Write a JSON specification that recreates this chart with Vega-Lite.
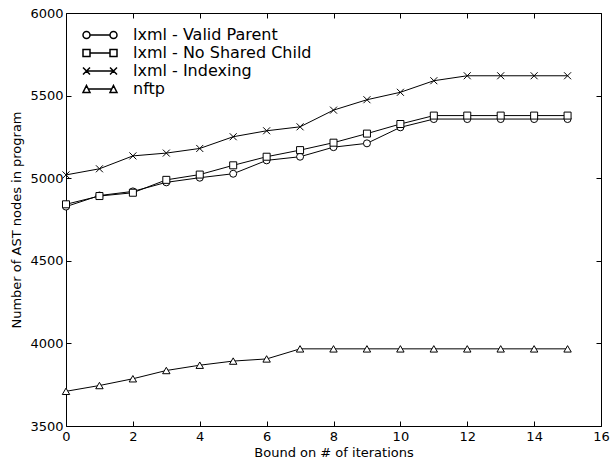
{
  "$schema": "https://vega.github.io/schema/vega-lite/v6.json",
  "width": 535,
  "height": 413,
  "autosize": {"type": "none"},
  "padding": {"left": 66, "top": 13, "right": 9, "bottom": 37},
  "background": "white",
  "config": {
    "font": "DejaVu Sans",
    "view": {"stroke": "black", "strokeWidth": 1},
    "axis": {
      "domain": false,
      "grid": false,
      "tickColor": "black",
      "tickSize": -5,
      "tickWidth": 1,
      "labelColor": "black",
      "labelFontSize": 13,
      "titleFontSize": 13,
      "titleFontWeight": "normal",
      "titleColor": "black",
      "labelFont": "DejaVu Sans",
      "titleFont": "DejaVu Sans"
    }
  },
  "data": {
    "values": [
      {"series": "lxml - Valid Parent", "x": 0, "y": 4828},
      {"series": "lxml - Valid Parent", "x": 1, "y": 4895},
      {"series": "lxml - Valid Parent", "x": 2, "y": 4920},
      {"series": "lxml - Valid Parent", "x": 3, "y": 4975},
      {"series": "lxml - Valid Parent", "x": 4, "y": 5003},
      {"series": "lxml - Valid Parent", "x": 5, "y": 5027},
      {"series": "lxml - Valid Parent", "x": 6, "y": 5108},
      {"series": "lxml - Valid Parent", "x": 7, "y": 5130},
      {"series": "lxml - Valid Parent", "x": 8, "y": 5188},
      {"series": "lxml - Valid Parent", "x": 9, "y": 5211},
      {"series": "lxml - Valid Parent", "x": 10, "y": 5308},
      {"series": "lxml - Valid Parent", "x": 11, "y": 5358},
      {"series": "lxml - Valid Parent", "x": 12, "y": 5358},
      {"series": "lxml - Valid Parent", "x": 13, "y": 5358},
      {"series": "lxml - Valid Parent", "x": 14, "y": 5358},
      {"series": "lxml - Valid Parent", "x": 15, "y": 5358},
      {"series": "lxml - No Shared Child", "x": 0, "y": 4842},
      {"series": "lxml - No Shared Child", "x": 1, "y": 4892},
      {"series": "lxml - No Shared Child", "x": 2, "y": 4912},
      {"series": "lxml - No Shared Child", "x": 3, "y": 4990},
      {"series": "lxml - No Shared Child", "x": 4, "y": 5022},
      {"series": "lxml - No Shared Child", "x": 5, "y": 5078},
      {"series": "lxml - No Shared Child", "x": 6, "y": 5130},
      {"series": "lxml - No Shared Child", "x": 7, "y": 5170},
      {"series": "lxml - No Shared Child", "x": 8, "y": 5215},
      {"series": "lxml - No Shared Child", "x": 9, "y": 5270},
      {"series": "lxml - No Shared Child", "x": 10, "y": 5328},
      {"series": "lxml - No Shared Child", "x": 11, "y": 5379},
      {"series": "lxml - No Shared Child", "x": 12, "y": 5379},
      {"series": "lxml - No Shared Child", "x": 13, "y": 5379},
      {"series": "lxml - No Shared Child", "x": 14, "y": 5379},
      {"series": "lxml - No Shared Child", "x": 15, "y": 5379},
      {"series": "lxml - Indexing", "x": 0, "y": 5020},
      {"series": "lxml - Indexing", "x": 1, "y": 5057},
      {"series": "lxml - Indexing", "x": 2, "y": 5135},
      {"series": "lxml - Indexing", "x": 3, "y": 5152},
      {"series": "lxml - Indexing", "x": 4, "y": 5180},
      {"series": "lxml - Indexing", "x": 5, "y": 5251},
      {"series": "lxml - Indexing", "x": 6, "y": 5287},
      {"series": "lxml - Indexing", "x": 7, "y": 5311},
      {"series": "lxml - Indexing", "x": 8, "y": 5412},
      {"series": "lxml - Indexing", "x": 9, "y": 5475},
      {"series": "lxml - Indexing", "x": 10, "y": 5520},
      {"series": "lxml - Indexing", "x": 11, "y": 5590},
      {"series": "lxml - Indexing", "x": 12, "y": 5620},
      {"series": "lxml - Indexing", "x": 13, "y": 5620},
      {"series": "lxml - Indexing", "x": 14, "y": 5620},
      {"series": "lxml - Indexing", "x": 15, "y": 5620},
      {"series": "nftp", "x": 0, "y": 3710},
      {"series": "nftp", "x": 1, "y": 3745},
      {"series": "nftp", "x": 2, "y": 3786},
      {"series": "nftp", "x": 3, "y": 3836},
      {"series": "nftp", "x": 4, "y": 3868},
      {"series": "nftp", "x": 5, "y": 3893},
      {"series": "nftp", "x": 6, "y": 3906},
      {"series": "nftp", "x": 7, "y": 3967},
      {"series": "nftp", "x": 8, "y": 3967},
      {"series": "nftp", "x": 9, "y": 3967},
      {"series": "nftp", "x": 10, "y": 3967},
      {"series": "nftp", "x": 11, "y": 3967},
      {"series": "nftp", "x": 12, "y": 3967},
      {"series": "nftp", "x": 13, "y": 3967},
      {"series": "nftp", "x": 14, "y": 3967},
      {"series": "nftp", "x": 15, "y": 3967}
    ]
  },
  "layer": [
    {
      "mark": {"type": "line", "color": "black", "strokeWidth": 1},
      "encoding": {
        "x": {
          "field": "x", "type": "quantitative",
          "scale": {"domain": [0, 16], "nice": false, "zero": false},
          "axis": {"values": [0, 2, 4, 6, 8, 10, 12, 14, 16], "title": "Bound on # of iterations", "labelPadding": 9, "labelFlush": false, "titlePadding": 3}
        },
        "y": {
          "field": "y", "type": "quantitative",
          "scale": {"domain": [3500, 6000], "nice": false, "zero": false},
          "axis": {"values": [3500, 4000, 4500, 5000, 5500, 6000], "format": "d", "title": "Number of AST nodes in program", "labelPadding": 8, "labelFlush": false, "titlePadding": 6}
        },
        "detail": {"field": "series"}
      }
    },
    {
      "transform": [{"filter": "datum.series == 'lxml - Valid Parent'"}],
      "mark": {"type": "point", "shape": "circle", "filled": true, "fill": "white", "stroke": "black", "strokeWidth": 1, "size": 49, "opacity": 1},
      "encoding": {
        "x": {"field": "x", "type": "quantitative", "axis": null},
        "y": {"field": "y", "type": "quantitative", "axis": null}
      }
    },
    {
      "transform": [{"filter": "datum.series == 'lxml - No Shared Child'"}],
      "mark": {"type": "point", "shape": "square", "filled": true, "fill": "white", "stroke": "black", "strokeWidth": 1, "size": 49, "opacity": 1},
      "encoding": {
        "x": {"field": "x", "type": "quantitative", "axis": null},
        "y": {"field": "y", "type": "quantitative", "axis": null}
      }
    },
    {
      "transform": [{"filter": "datum.series == 'lxml - Indexing'"}],
      "mark": {"type": "point", "shape": "M-1,-1L1,1M-1,1L1,-1", "filled": false, "stroke": "black", "strokeWidth": 1, "size": 49, "opacity": 1},
      "encoding": {
        "x": {"field": "x", "type": "quantitative", "axis": null},
        "y": {"field": "y", "type": "quantitative", "axis": null}
      }
    },
    {
      "transform": [{"filter": "datum.series == 'nftp'"}],
      "mark": {"type": "point", "shape": "triangle-up", "filled": true, "fill": "white", "stroke": "black", "strokeWidth": 1, "size": 55, "opacity": 1},
      "encoding": {
        "x": {"field": "x", "type": "quantitative", "axis": null},
        "y": {"field": "y", "type": "quantitative", "axis": null}
      }
    },
    {
      "transform": [{"filter": "datum.x < 0"}],
      "mark": {"type": "point", "filled": true, "fill": "white", "stroke": "black", "strokeWidth": 1, "opacity": 1},
      "encoding": {
        "x": {"field": "x", "type": "quantitative", "axis": {"orient": "top", "labels": false, "title": null, "values": [0, 2, 4, 6, 8, 10, 12, 14, 16]}},
        "y": {"field": "y", "type": "quantitative", "axis": {"orient": "right", "labels": false, "title": null, "values": [3500, 4000, 4500, 5000, 5500, 6000]}},
        "shape": {
          "field": "series",
          "scale": {
            "domain": ["lxml - Valid Parent", "lxml - No Shared Child", "lxml - Indexing", "nftp"],
            "range": [
              "M-1,0A0.4375,0.4375,0,1,1,-0.125,0A0.4375,0.4375,0,1,1,-1,0ZM2.375,0A0.4375,0.4375,0,1,1,3.25,0A0.4375,0.4375,0,1,1,2.375,0ZM-0.125,0L2.375,0",
              "M-1,-0.4375L-0.125,-0.4375L-0.125,0.4375L-1,0.4375ZM2.375,-0.4375L3.25,-0.4375L3.25,0.4375L2.375,0.4375ZM-0.125,0L2.375,0",
              "M-1,-0.4375L-0.125,0.4375M-1,0.4375L-0.125,-0.4375M2.375,-0.4375L3.25,0.4375M2.375,0.4375L3.25,-0.4375M-0.5625,0L2.8125,0",
              "M-0.5625,-0.4375L-0.125,0.4375L-1,0.4375ZM2.8125,-0.4375L3.25,0.4375L2.375,0.4375ZM-0.34375,0L2.59375,0"
            ]
          },
          "legend": {
            "orient": "none",
            "legendX": 16,
            "legendY": 13,
            "padding": 0,
            "title": null,
            "symbolSize": 256,
            "labelFontSize": 16,
            "labelColor": "black",
            "labelOffset": 33,
            "labelLimit": 0,
            "rowPadding": 1
          }
        }
      }
    }
  ],
  "resolve": {
    "axis": {"x": "independent", "y": "independent"}
  }
}
